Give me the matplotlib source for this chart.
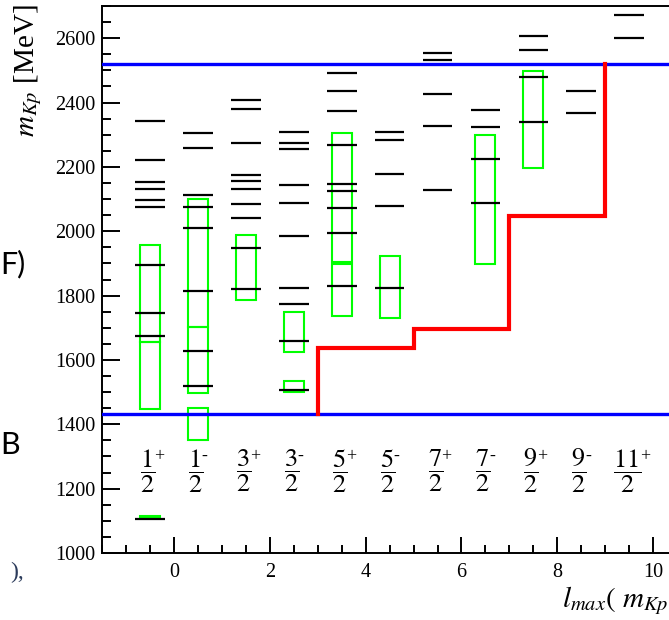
import numpy as np
import matplotlib
matplotlib.use("Agg")
import matplotlib.pyplot as plt
from matplotlib.ticker import MultipleLocator
from matplotlib.patches import Rectangle

plt.rcParams['mathtext.fontset'] = 'stix'
plt.rcParams['font.family'] = ['Liberation Serif', 'DejaVu Serif']

# J^P columns: numerator of J (over 2) and parity
spin_num = ["1", "1", "3", "3", "5", "5", "7", "7", "9", "9", "11"]
parity = ["+", "-", "+", "-", "+", "-", "+", "-", "+", "-", "+"]

# calculated levels [MeV], one list per J^P column
levels = [
    [1105, 1674, 1745, 1895, 2074, 2096, 2132, 2153, 2221, 2342],
    [1520, 1628, 1814, 2009, 2074, 2114, 2260, 2306],
    [1820, 1948, 2042, 2084, 2131, 2156, 2174, 2273, 2381, 2407],
    [1506, 1660, 1774, 1824, 1984, 2088, 2145, 2256, 2275, 2309],
    [1830, 1995, 2073, 2124, 2148, 2267, 2374, 2435, 2492],
    [1824, 2077, 2177, 2284, 2309],
    [2127, 2326, 2427, 2531, 2554],
    [2088, 2224, 2323, 2378],
    [2338, 2478, 2563, 2606],
    [2366, 2435],
    [2599, 2673],
]

# experimental mass ranges [MeV]: column index, lower and upper edge
box_col = [0, 0, 0, 1, 1, 1, 2, 3, 3, 4, 4, 5, 7, 8]
box_lo = [1112, 1447, 1657, 1351, 1496, 1703, 1786, 1501, 1625, 1736, 1905, 1729, 1898, 2198]
box_hi = [1114, 1655, 1957, 1451, 1703, 2099, 1988, 1534, 1748, 1898, 2306, 1924, 2299, 2498]

# K p threshold and upper mass limit [MeV]
m_threshold = 1432
m_upper = 2520

# l_max steps: l value where the step rises, and mass reached there
lmax_edges = [3, 5, 7, 9]
lmax_mass = [1636, 1696, 2047, 2520]

fig = plt.figure(figsize=(6.69, 6.20), dpi=100)
ax = fig.add_axes([102 / 669, 67 / 620, 567 / 669, 547 / 620])
ax.set_xlim(-1.5, 10.33)
ax.set_ylim(1000, 2700)

cols = np.arange(len(spin_num)) - 0.5

for xc, lv in zip(cols, levels):
    ax.hlines(lv, xc - 0.31, xc + 0.31, color='black', lw=1.6, zorder=3)

for c, lo, hi in zip(box_col, box_lo, box_hi):
    ax.add_patch(Rectangle((cols[c] - 0.21, lo), 0.42, hi - lo, fill=False,
                           ec=(0, 1, 0), lw=1.5, zorder=2))

ax.axhline(m_threshold, color=(0, 0, 1), lw=2.4, zorder=4)
ax.axhline(m_upper, color=(0, 0, 1), lw=2.4, zorder=4)

xs = [lmax_edges[0]]
ys = [m_threshold]
for i, (e, m) in enumerate(zip(lmax_edges, lmax_mass)):
    xs.append(e)
    ys.append(m)
    if i + 1 < len(lmax_edges):
        xs.append(lmax_edges[i + 1])
        ys.append(m)
ax.plot(xs, ys, color=(1, 0, 0), lw=3.0, zorder=4, solid_joinstyle='miter')

# J^P labels: fraction J = n/2 with the parity sign at the numerator's top right
label_m = 1255
for xc, n, p in zip(cols, spin_num, parity):
    fx = xc - 0.05
    ax.text(fx, label_m, rf"$\dfrac{{{n}}}{{2}}$", ha='center', va='center',
            fontsize=19)
    ax.annotate(p, xy=(fx, label_m), xytext=(4.6 * len(n), 10.5),
                textcoords='offset points', ha='left', va='center', fontsize=13)

ax.xaxis.set_major_locator(MultipleLocator(2))
ax.xaxis.set_minor_locator(MultipleLocator(0.5))
ax.yaxis.set_major_locator(MultipleLocator(200))
ax.yaxis.set_minor_locator(MultipleLocator(50))
ax.tick_params(which='both', direction='in', top=False, right=False, width=1.4)
ax.tick_params(axis='y', which='major', length=13, pad=4.5, labelsize=14.5)
ax.tick_params(axis='y', which='minor', length=6.5)
ax.tick_params(axis='x', which='major', length=11.5, pad=7.5, labelsize=14.5)
ax.tick_params(axis='x', which='minor', length=5.5)
ax.spines['right'].set_visible(False)
for s in ['left', 'bottom', 'top']:
    ax.spines[s].set_linewidth(1.4)

fig.text(28 / 669, 1 - 4 / 620, r"$m_{Kp}$ [MeV]", rotation=90, ha='center',
         va='top', fontsize=21)
fig.text(562 / 669, 1 - 607 / 620, r"$l_{max}(\ m_{Kp}$", ha='left',
         va='baseline', fontsize=21)

# surrounding page text
fig.text(0, 1 - 273 / 620, "F)", family='Lato', fontsize=22, va='baseline')
fig.text(0, 1 - 454 / 620, "B", family='Lato', fontsize=22, va='baseline')
fig.text(10 / 669, 1 - 578 / 620, "),", family='Liberation Serif', fontsize=17,
         color='#2b3b5b', va='baseline')

fig.savefig("out.png", dpi=100)
